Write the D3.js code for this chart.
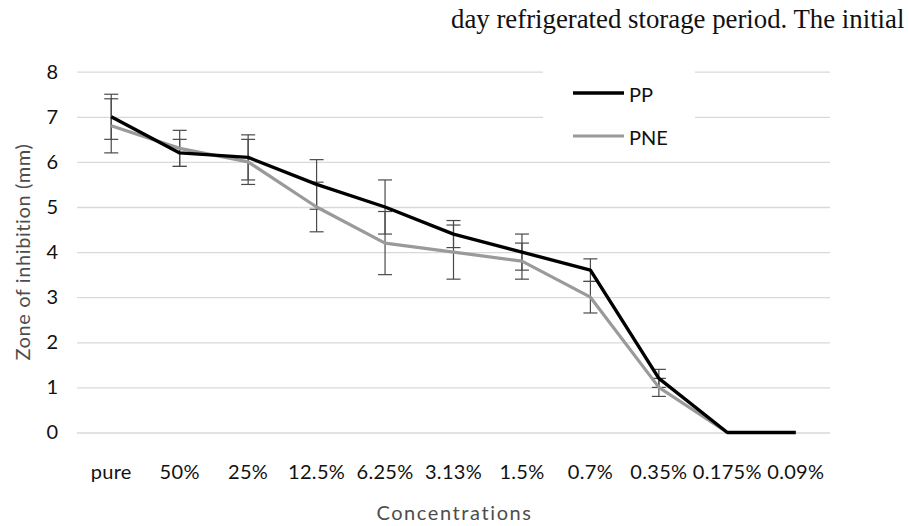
<!DOCTYPE html>
<html>
<head>
<meta charset="utf-8">
<script src="https://cdn.jsdelivr.net/npm/d3@7"></script>
<style>
  body { margin: 0; background: #fff; }
  svg { display: block; }
  .tick text { font-family: Lato, sans-serif; }
</style>
</head>
<body>
<script>
// zone of inhibition line chart with error bars

var concentrations = ["pure", "50%", "25%", "12.5%", "6.25%", "3.13%", "1.5%", "0.7%", "0.35%", "0.175%", "0.09%"];
var ppValues  = [7.0, 6.2, 6.1, 5.5, 5.0, 4.4, 4.0, 3.6, 1.2, 0, 0];
var ppErrors  = [0.5, 0.3, 0.5, 0.55, 0.6, 0.3, 0.4, 0.25, 0.2, 0, 0];
var pneValues = [6.8, 6.3, 6.0, 5.0, 4.2, 4.0, 3.8, 3.0, 1.0, 0, 0];
var pneErrors = [0.6, 0.4, 0.5, 0.55, 0.7, 0.6, 0.4, 0.35, 0.2, 0, 0];
var yTicks = [0, 1, 2, 3, 4, 5, 6, 7, 8];
var seriesNames = ["PP", "PNE"];

var w = 909, h = 526;
var plotLeft = 77, plotRight = 830, plotTop = 71.7, plotBottom = 432.5;

var svg = d3.select("body").append("svg")
  .attr("width", w)
  .attr("height", h);

// bit of the surrounding page text
svg.append("text")
  .attr("x", 451)
  .attr("y", 28)
  .style("font-family", "'Liberation Serif', 'Times New Roman', serif")
  .style("font-size", "26.8px")
  .style("fill", "#111")
  .text("day refrigerated storage period. The initial");

var x = d3.scaleBand()
  .domain(concentrations)
  .range([plotLeft, plotRight])
  .padding(0);

var y = d3.scaleLinear()
  .domain([0, 8])
  .range([plotBottom, plotTop]);

function cx(i) { return x(concentrations[i]) + x.bandwidth() / 2; }

// gridlines
var grid = svg.append("g")
  .attr("transform", "translate(" + plotLeft + ",0)")
  .call(d3.axisLeft(y).tickValues(yTicks).tickSize(-(plotRight - plotLeft)).tickFormat(""));
grid.select(".domain").remove();
grid.selectAll("line").attr("stroke", "#d9d9d9").attr("stroke-width", 1.3);

// y tick labels
var yAxis = svg.append("g")
  .attr("transform", "translate(" + plotLeft + ",0)")
  .call(d3.axisLeft(y).tickValues(yTicks).tickSize(0).tickPadding(19));
yAxis.select(".domain").remove();
yAxis.selectAll("text").style("font-size", "20px").style("fill", "#111");

// x tick labels
var xAxis = svg.append("g")
  .attr("transform", "translate(0," + plotBottom + ")")
  .call(d3.axisBottom(x).tickSize(0).tickPadding(39));
xAxis.select(".domain").remove();
xAxis.selectAll("text")
  .attr("dy", "0.35em")
  .style("font-size", "20px")
  .style("letter-spacing", "0.3px")
  .style("fill", "#111");

// axis titles
svg.append("text")
  .attr("x", (plotLeft + plotRight) / 2 + 1)
  .attr("y", 520)
  .attr("text-anchor", "middle")
  .style("font-family", "Lato, sans-serif")
  .style("font-size", "20px")
  .style("letter-spacing", "1.6px")
  .style("fill", "#4d4d4d")
  .text("Concentrations");

svg.append("text")
  .attr("transform", "translate(30," + (plotTop + plotBottom) / 2 + ") rotate(-90)")
  .attr("text-anchor", "middle")
  .style("font-family", "Lato, sans-serif")
  .style("font-size", "20px")
  .style("letter-spacing", "0.6px")
  .style("fill", "#4d4d4d")
  .text("Zone of inhibition (mm)");

var series = [
  { name: seriesNames[0], values: ppValues, errors: ppErrors, color: "#000000", width: 3.4 },
  { name: seriesNames[1], values: pneValues, errors: pneErrors, color: "#9a9a9a", width: 3.2 }
];

var line = d3.line()
  .x(function(d, i){ return cx(i); })
  .y(function(d){ return y(d); });

// error bars under the lines
series.forEach(function(s){
  var g = svg.append("g").attr("class", "errors");
  s.values.forEach(function(v, i){
    var e = s.errors[i];
    if (!e) return;
    var xc = cx(i);
    g.append("line")
      .attr("x1", xc).attr("x2", xc)
      .attr("y1", y(v + e)).attr("y2", y(v - e));
    [v + e, v - e].forEach(function(t){
      g.append("line")
        .attr("x1", xc - 7).attr("x2", xc + 7)
        .attr("y1", y(t)).attr("y2", y(t));
    });
  });
  g.selectAll("line").attr("stroke", "#4a4a4a").attr("stroke-width", 1.2);
});

// lines, PNE first so PP sits on top
series.slice().reverse().forEach(function(s){
  svg.append("path")
    .datum(s.values)
    .attr("d", line)
    .attr("fill", "none")
    .attr("stroke", s.color)
    .attr("stroke-width", s.width)
    .attr("stroke-linejoin", "round");
});

// legend box hides the gridlines behind it
var legend = svg.append("g");
legend.append("rect")
  .attr("x", 543).attr("y", 62)
  .attr("width", 152).attr("height", 86)
  .attr("fill", "#fff");

var legendY = [93, 136];
series.forEach(function(s, i){
  legend.append("line")
    .attr("x1", 573).attr("x2", 624)
    .attr("y1", legendY[i]).attr("y2", legendY[i])
    .attr("stroke", s.color)
    .attr("stroke-width", s.width);
  legend.append("text")
    .attr("x", 629)
    .attr("y", legendY[i] + 1.5)
    .attr("dy", "0.35em")
    .style("font-family", "Lato, sans-serif")
    .style("font-size", "20px")
    .style("fill", "#111")
    .text(s.name);
});
</script>
</body>
</html>
